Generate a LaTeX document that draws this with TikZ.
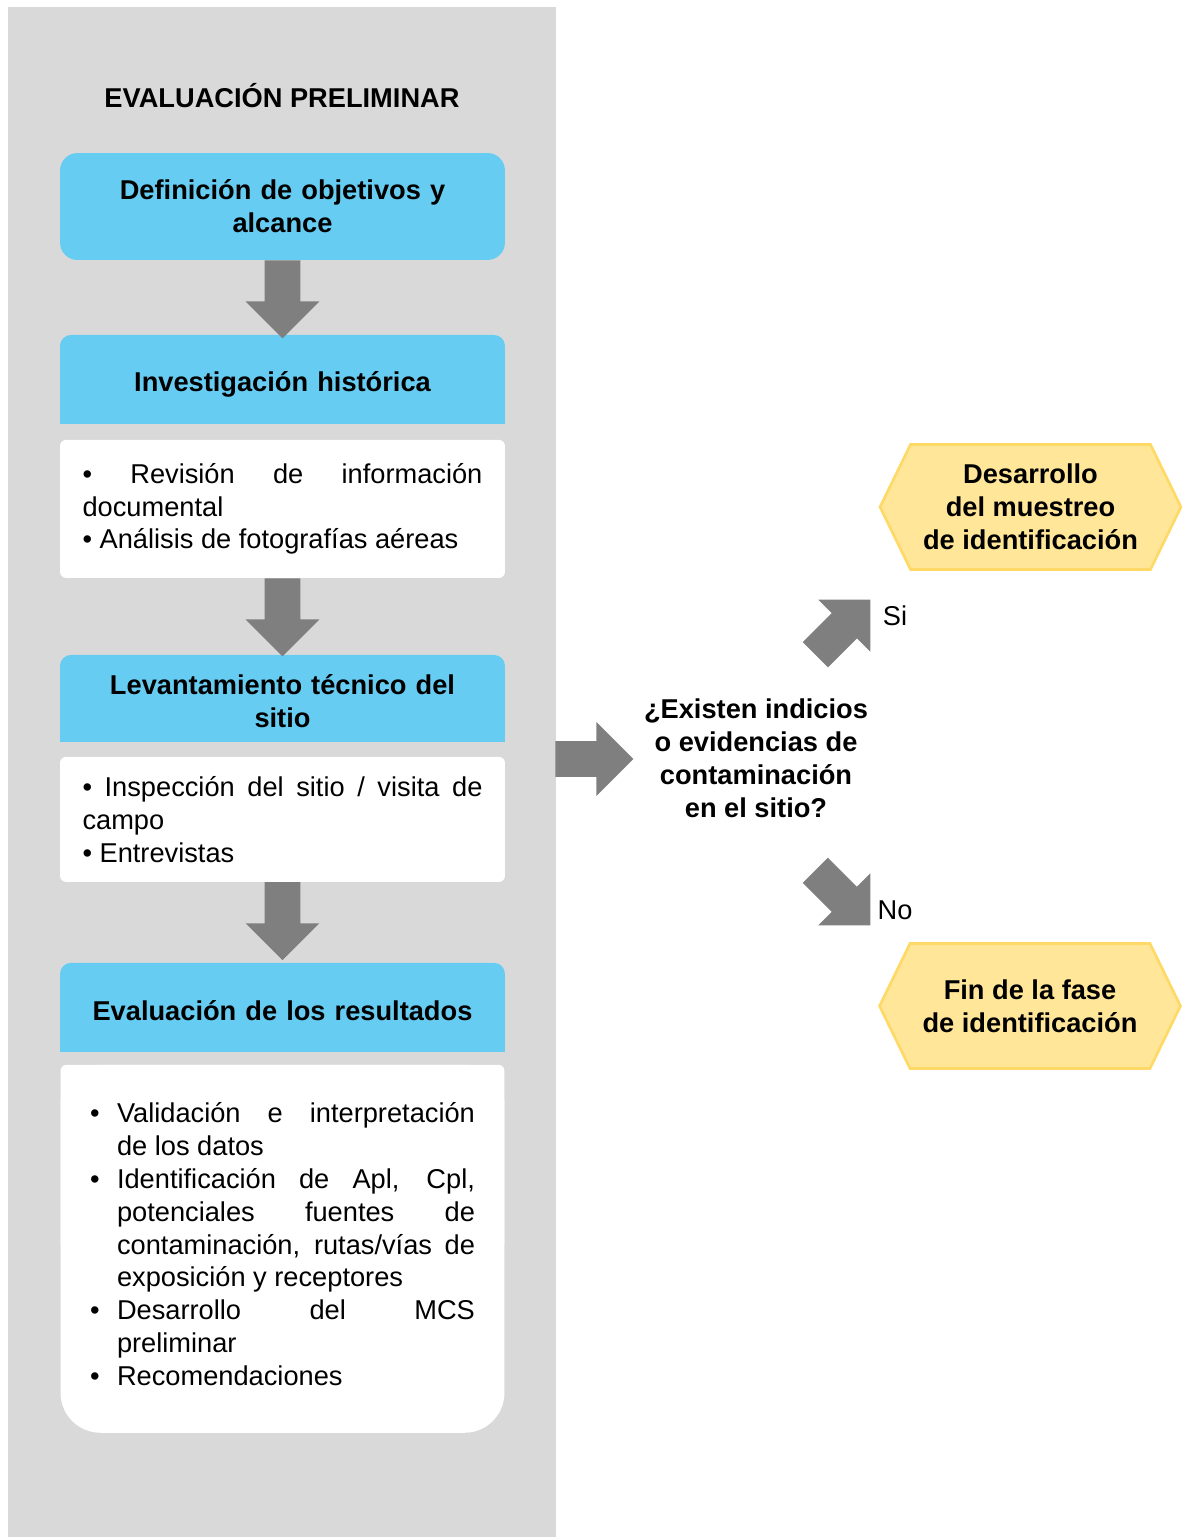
\documentclass[tikz,border=0pt]{standalone}
\usepackage{fontspec}
\setmainfont{Liberation Sans}
\usepackage{tikz}
\usetikzlibrary{positioning, calc, backgrounds, shapes.arrows, shapes.symbols}
\usepackage{xcolor}
\definecolor{panelgray}{HTML}{D9D9D9}
\definecolor{headblue}{HTML}{66CCF2}
\definecolor{hexfill}{HTML}{FFE699}
\definecolor{hexline}{HTML}{FFD966}
\definecolor{arrowgray}{HTML}{7F7F7F}
\setlength{\parindent}{0pt}
\newcommand{\basefont}{\fontsize{15.5pt}{18.7pt}\selectfont}
\newcommand{\itm}{\hangindent=0.54cm\hangafter=1\noindent\makebox[0.54cm][l]{•}}

\begin{document}
\begin{tikzpicture}[
  x=0.02cm, y=-0.02cm,
  node distance=1.5cm,
  head/.style={rectangle, fill=headblue, rounded corners=0.22cm, outer sep=0pt,
               minimum width=8.9cm, text width=8.5cm, inner xsep=0.2cm,
               inner ysep=0pt, align=center, font=\basefont\bfseries},
  body/.style={rectangle, fill=white, rounded corners=0.12cm, outer sep=0pt,
               minimum width=8.9cm, text width=8cm, inner xsep=0.45cm,
               inner ysep=0pt, align=justify, font=\basefont},
  blockarrow/.style={single arrow, fill=arrowgray, inner xsep=0pt, inner ysep=0.35cm,
                     minimum width=1.46cm, minimum height=1.56cm, anchor=tail,
                     single arrow head extend=0.38cm, single arrow tip angle=90},
  endhex/.style={signal, signal to=west and east, signal pointer angle=128,
                 fill=hexfill, draw=hexline, line width=1.5pt,
                 minimum width=6.02cm, minimum height=2.5cm, inner sep=0pt,
                 align=center, font=\basefont\bfseries},
  label/.style={font=\basefont}
]
\useasboundingbox (0,0) rectangle (1181,1537);
\begin{scope}[on background layer]
  \fill[panelgray] (8,7) rectangle (556,1537);
\end{scope}

\node[font=\basefont\bfseries] (title) at (282,96) {EVALUACIÓN PRELIMINAR};

\node[head, minimum height=2.14cm, rounded corners=0.35cm] (def) at (282.5,206.5)
  {Definición de objetivos y\\ alcance};
\node[head, minimum height=1.78cm, text height=15pt, text depth=1pt,
      below=1.5cm of def] (hist) {Investigación histórica};
\node[body, minimum height=2.76cm, below=0.32cm of hist] (histtxt)
  {• Revisión de información\linebreak documental\\ • Análisis de fotografías aéreas};
\node[head, minimum height=1.74cm, text height=14.5pt, text depth=18.7pt,
      below=1.54cm of histtxt] (lev)
  {Levantamiento técnico del\\ sitio};
\node[body, minimum height=2.5cm, below=0.3cm of lev] (levtxt)
  {• Inspección del sitio / visita de\linebreak campo\\ • Entrevistas};
\node[head, minimum height=1.78cm, text height=16pt, text depth=1pt,
      below=1.62cm of levtxt] (eval)
  {Evaluación de los resultados};
\node[body, fill=none, minimum width=8.88cm, minimum height=7.36cm, text width=7.7cm,
      inner xsep=0.59cm, text depth=155pt, below=0.26cm of eval] (evaltxt)
  {\itm Validación e interpretación\linebreak de los datos\par
   \itm Identificación de Apl, Cpl,\linebreak potenciales fuentes de\linebreak
   contaminación, rutas/vías de\linebreak exposición y receptores\par
   \itm Desarrollo del MCS\linebreak preliminar\par
   \itm Recomendaciones};

\begin{scope}[on background layer]
  \fill[headblue] (hist.south west) rectangle ($(hist.south east)+(0,0.3cm)$);
  \fill[headblue] (lev.south west) rectangle ($(lev.south east)+(0,0.3cm)$);
  \fill[headblue] (eval.south west) rectangle ($(eval.south east)+(0,0.3cm)$);
  \fill[white, rounded corners=0.8cm] (evaltxt.north west) rectangle (evaltxt.south east);
  \fill[white, rounded corners=0.12cm] (evaltxt.north west) rectangle (evaltxt.east);
\end{scope}

\node[blockarrow, rotate=-90] (a1) at (def.south) {};
\node[blockarrow, rotate=-90] (a2) at (histtxt.south) {};
\node[blockarrow, rotate=-90] (a3) at (levtxt.south) {};

\node[font=\basefont\bfseries, align=center] (q) at (756,758)
  {¿Existen indicios\\ o evidencias de\\ contaminación\\ en el sitio?};
\node[blockarrow] (a4) at (555,759) {};

\node[endhex] (desa) at (1030.5,507) {Desarrollo\\ del muestreo\\ de identificación};
\node[endhex] (fin) at (1030,1006) {Fin de la fase\\ de identificación};

\node[blockarrow, rotate=45] (asi) at (815,655) {};
\node[blockarrow, rotate=-45] (ano) at (815,870) {};
\node[label] (si) at (895,616) {Si};
\node[label] (no) at (895,910) {No};

\end{tikzpicture}
\end{document}
